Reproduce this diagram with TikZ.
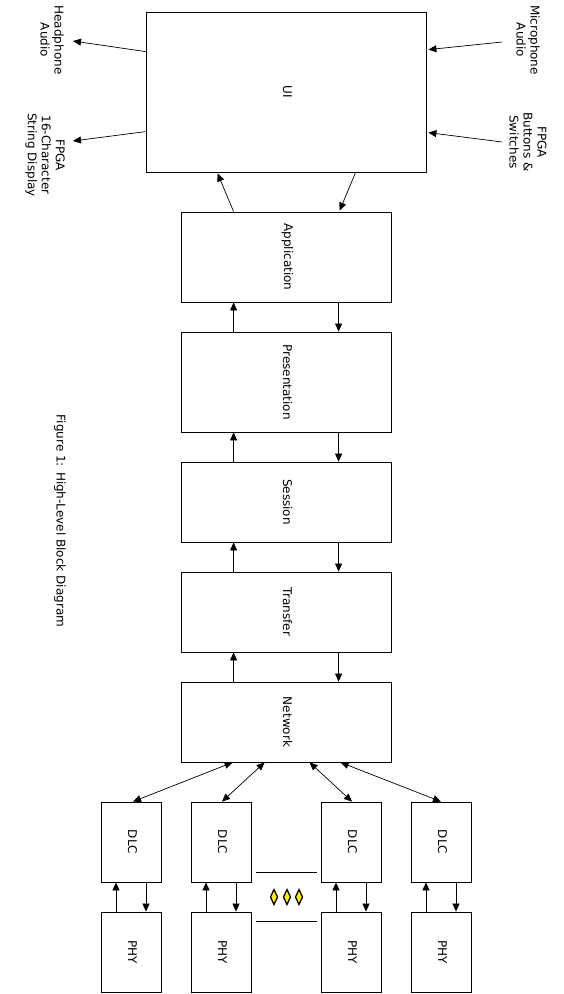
\documentclass[tikz,border=0pt]{standalone}
\usepackage{fontspec}
\setmainfont{DejaVu Sans}
\usetikzlibrary{arrows.meta,calc}
\newcommand{\rtxt}[1]{\hspace*{3pt}\rotatebox{-90}{#1}}
\begin{document}
\begin{tikzpicture}[x=1pt,y=-1pt,
  every node/.style={font=\fontsize{12}{14}\selectfont},
  blk/.style={draw, line width=0.8pt, inner sep=0pt},
  arr/.style={line width=0.7pt, -{Triangle[length=8pt,width=7pt]}},
  darr/.style={line width=0.7pt, {Triangle[length=8pt,width=7pt]}-{Triangle[length=8pt,width=7pt]}},
  lbl/.style={rotate=-90, align=center, inner sep=0pt},
  dia/.style={draw, fill=yellow, line width=1.3pt}]
\useasboundingbox (0,0) rectangle (564,994);
% main stack
\node[blk, minimum width=280pt, minimum height=160pt] (ui) at (286,92) {\rtxt{UI}};
\node[blk, minimum width=210pt, minimum height=90pt] (app) at (286,257) {\rtxt{Application}};
\node[blk, minimum width=210pt, minimum height=100pt] (pres) at (286,382) {\rtxt{Presentation}};
\node[blk, minimum width=210pt, minimum height=80pt] (sess) at (286,502) {\rtxt{Session}};
\node[blk, minimum width=210pt, minimum height=80pt] (trans) at (286,612) {\rtxt{Transfer}};
\node[blk, minimum width=210pt, minimum height=80pt] (net) at (286,722) {\rtxt{Network}};
% DLC and PHY
\foreach \i/\x in {1/131,2/221,3/351,4/441}{
  \node[blk, minimum width=60pt, minimum height=80pt] (dlc\i) at (\x,842) {\rtxt{DLC}};
  \node[blk, minimum width=60pt, minimum height=80pt] (phy\i) at (\x,952) {\rtxt{PHY}};
  \draw[arr] ($(phy\i.north)+(-15,0)$) -- ($(dlc\i.south)+(-15,0)$);
  \draw[arr] ($(dlc\i.south)+(15,0)$) -- ($(phy\i.north)+(15,0)$);
}
% external labels
\node[lbl] (hp) at (52,40) {Headphone\\Audio};
\node[lbl] (disp) at (45,155) {FPGA\\16-Character\\String Display};
\node[lbl] (mic) at (528,40) {Microphone\\Audio};
\node[lbl] (btn) at (528,142) {FPGA\\Buttons \&\\Switches};
\node[lbl] (cap) at (60,521) {Figure 1: High-Level Block Diagram};
\coordinate (hpE) at (73,41);
\coordinate (dispE) at (73,141);
\coordinate (micS) at (502,42);
\coordinate (btnS) at (502,142);
\draw[arr] ($(ui.north west)+(0,40)$) -- (hpE);
\draw[arr] ($(ui.north west)+(0,120)$) -- (dispE);
\draw[arr] (micS) -- ($(ui.north east)+(2,38)$);
\draw[arr] (btnS) -- ($(ui.north east)+(2,121)$);
% UI <-> Application
\draw[arr] ($(app.north west)+(53,0)$) -- ($(ui.south west)+(72,1)$);
\draw[arr] ($(ui.south west)+(210,0)$) -- ($(app.north west)+(159,-1)$);
% stack arrows
\foreach \lo/\hi in {pres/app,sess/pres,trans/sess,net/trans}{
  \draw[arr] ($(\lo.north west)+(53,0)$) -- ($(\hi.south west)+(53,0)$);
  \draw[arr] ($(\hi.south west)+(158,0)$) -- ($(\lo.north west)+(158,0)$);
}
% network <-> DLC
\draw[darr] ($(net.south west)+(52,0)$) -- ($(dlc1.north)+(2,0)$);
\draw[darr] ($(net.south west)+(84,0)$) -- ($(dlc2.north)+(1,0)$);
\draw[darr] ($(net.south west)+(129,0)$) -- ($(dlc3.north)+(1,0)$);
\draw[darr] ($(net.south west)+(160,0)$) -- ($(dlc4.north)+(0,0)$);
% gap lines and diamonds
\draw[line width=0.8pt] ($(dlc2.south east)+(5,-10)$) -- ($(dlc3.south west)+(-4,-10)$);
\draw[line width=0.8pt] ($(phy2.north east)+(5,10)$) -- ($(phy3.north west)+(-4,10)$);
\foreach \x in {274,287,299}{
  \draw[dia] (\x,889.5) -- (\x+3.5,897) -- (\x,904.5) -- (\x-3.5,897) -- cycle;
}
\end{tikzpicture}
\end{document}
